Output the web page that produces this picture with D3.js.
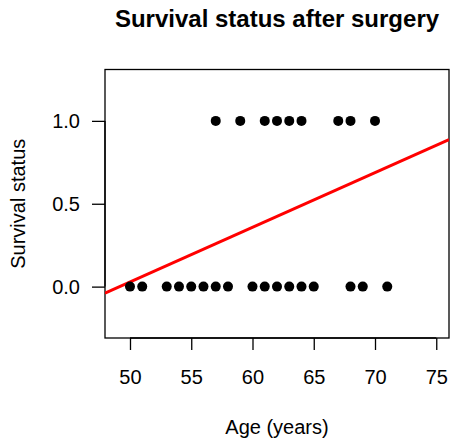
<!DOCTYPE html>
<html>
<head>
<meta charset="utf-8">
<script src="https://cdn.jsdelivr.net/npm/d3@7"></script>
<style>
    body { margin: 0; background: #fff; }
    text { font-family: "Liberation Sans", Arial, sans-serif; fill: #000; }
    .title { font-weight: bold; font-size: 24px; }
    .axis-label { font-size: 20px; }
    .tick-label { font-size: 20px; }
    .class-pt { fill: #000; }
    .fit-line { stroke: #ff0000; stroke-width: 3; fill: none; }
</style>
</head>
<body>
<div id="chart"></div>
<script>
// ages of patients who survived (1) and did not (0)
const agesSurvived = [57, 59, 61, 62, 63, 64, 67, 68, 70];
const agesDied = [50, 51, 53, 54, 55, 56, 57, 58, 60, 61, 62, 63, 64, 65, 68, 69, 71];

// fitted straight line: status = intercept + slope * age
const fitIntercept = -1.622;
const fitSlope = 0.033;

const xTicks = [50, 55, 60, 65, 70, 75];
const yTicks = [0.0, 0.5, 1.0];
const xLim = [49, 75];
const yLim = [-0.25, 1.25];

class ScatterFit {
    constructor(opts) {
        this.element = opts.element;
        this.data = opts.data;
        this.draw();
    }

    draw() {
        this.width = 451;
        this.height = 438;
        this.margin = {top: 69.5, right: 2, bottom: 100, left: 105};

        const svg = d3.select(this.element).append('svg')
            .attr('width', this.width)
            .attr('height', this.height);
        this.svg = svg;

        this.createScales();
        this.addAxes();
        this.addLine();
        this.addPoints();
    }

    createScales() {
        const m = this.margin;
        // R style 4% padding on both axes
        const px = (xLim[1] - xLim[0]) * 0.04;
        const py = (yLim[1] - yLim[0]) * 0.04;
        this.xScale = d3.scaleLinear()
            .domain([xLim[0] - px, xLim[1] + px])
            .range([m.left, this.width - m.right]);
        this.yScale = d3.scaleLinear()
            .domain([yLim[0] - py, yLim[1] + py])
            .range([this.height - m.bottom, m.top]);
    }

    addAxes() {
        const x = this.xScale, y = this.yScale;
        const x0 = x.range()[0], x1 = x.range()[1];
        const y0 = y.range()[0], y1 = y.range()[1];

        // plot box
        this.svg.append('rect')
            .attr('x', x0).attr('y', y1)
            .attr('width', x1 - x0).attr('height', y0 - y1)
            .attr('fill', 'none')
            .attr('stroke', '#000')
            .attr('stroke-width', 1.3);

        const xAxis = d3.axisBottom(x)
            .tickValues(xTicks)
            .tickSize(12)
            .tickPadding(20)
            .tickFormat(d3.format('d'));
        const gx = this.svg.append('g')
            .attr('transform', `translate(0,${y0})`)
            .call(xAxis);
        gx.select('.domain')
            .attr('d', `M${x(xTicks[0])},0H${x(xTicks[xTicks.length - 1])}`)
            .attr('stroke-width', 1.3);
        gx.selectAll('.tick line').attr('stroke-width', 1.3);
        gx.selectAll('.tick text').attr('class', 'tick-label');

        const yAxis = d3.axisLeft(y)
            .tickValues(yTicks)
            .tickSize(13)
            .tickPadding(12)
            .tickFormat(d3.format('.1f'));
        const gy = this.svg.append('g')
            .attr('transform', `translate(${x0},0)`)
            .call(yAxis);
        gy.select('.domain')
            .attr('d', `M0,${y(yTicks[0])}V${y(yTicks[yTicks.length - 1])}`)
            .attr('stroke-width', 1.3);
        gy.selectAll('.tick line').attr('stroke-width', 1.3);
        gy.selectAll('.tick text').attr('class', 'tick-label');

        // let the css set the fonts
        gx.attr('font-family', null).attr('font-size', null);
        gy.attr('font-family', null).attr('font-size', null);

        // labels
        this.svg.append('text')
            .attr('class', 'title')
            .attr('text-anchor', 'middle')
            .attr('x', (x0 + x1) / 2)
            .attr('y', 27)
            .text('Survival status after surgery');

        this.svg.append('text')
            .attr('class', 'axis-label')
            .attr('text-anchor', 'middle')
            .attr('x', (x0 + x1) / 2)
            .attr('y', 434)
            .text('Age (years)');

        this.svg.append('text')
            .attr('class', 'axis-label')
            .attr('text-anchor', 'middle')
            .attr('transform', `translate(25,${(y0 + y1) / 2}) rotate(-90)`)
            .text('Survival status');
    }

    addLine() {
        const x = this.xScale, y = this.yScale;
        const dom = x.domain();
        const ends = dom.map(a => ({age: a, status: fitIntercept + fitSlope * a}));
        const r = x.range(), ry = y.range();
        this.svg.append('clipPath').attr('id', 'plot-clip')
            .append('rect')
            .attr('x', r[0]).attr('y', ry[1])
            .attr('width', r[1] - r[0]).attr('height', ry[0] - ry[1]);
        this.svg.append('path')
            .datum(ends)
            .attr('class', 'fit-line')
            .attr('clip-path', 'url(#plot-clip)')
            .attr('d', d3.line().x(d => x(d.age)).y(d => y(d.status)));
    }

    addPoints() {
        this.svg.selectAll('circle.pt')
            .data(this.data)
            .enter()
            .append('circle')
            .attr('class', 'class-pt')
            .attr('cx', d => this.xScale(d.age))
            .attr('cy', d => this.yScale(d.status))
            .attr('r', 5);
    }
}

const points = agesSurvived.map(a => ({age: a, status: 1}))
    .concat(agesDied.map(a => ({age: a, status: 0})));

new ScatterFit({element: document.getElementById('chart'), data: points});
</script>
</body>
</html>
